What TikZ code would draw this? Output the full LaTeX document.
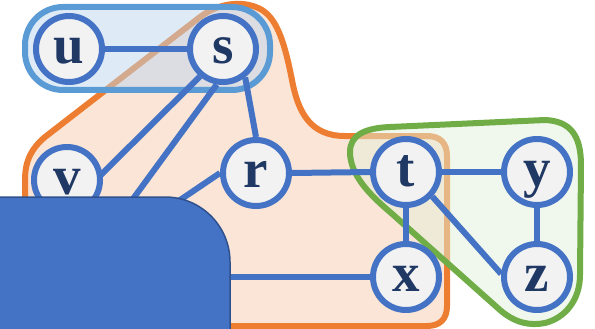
\documentclass[tikz,border=0pt]{standalone}
\usepackage{fontspec}
\setmainfont{Liberation Serif}
\definecolor{nodeblue}{HTML}{4472C4}
\definecolor{nodefill}{HTML}{F2F2F2}
\definecolor{navy}{HTML}{1F3864}
\definecolor{orangeline}{HTML}{ED7D31}
\definecolor{orangefill}{HTML}{FBE5D6}
\definecolor{groupline}{HTML}{5B9BD5}
\definecolor{groupfill}{HTML}{BDD7EE}
\definecolor{greenline}{HTML}{70AD47}
\definecolor{greenfill}{HTML}{E2F0D9}
\definecolor{boxdark}{HTML}{2F528F}
\pgfdeclarelayer{regionlayer}
\pgfdeclarelayer{edgelayer}
\pgfdeclarelayer{coverlayer}
\pgfsetlayers{regionlayer,edgelayer,main,coverlayer}
\tikzset{
  vtx/.style={circle, draw=nodeblue, fill=nodefill, line width=6pt, minimum size=66pt, inner sep=0pt,
    text=navy, font=\bfseries\fontsize{55}{55}\selectfont, text height=35pt, text depth=6pt},
  edge/.style={draw=nodeblue, line width=6pt},
  orangeregion/.style={draw=orangeline, fill=orangefill, line width=6pt},
  greenregion/.style={draw=greenline, fill=greenfill, fill opacity=0.5, draw opacity=1, line width=6pt},
  groupregion/.style={draw=groupline, fill=groupfill, fill opacity=0.5, draw opacity=1, line width=6pt},
  coverbox/.style={draw=boxdark, fill=nodeblue, line width=1.5pt}
}
\begin{document}
\begin{tikzpicture}[x=1pt,y=-1pt]
\useasboundingbox (0,0) rectangle (595,329);
% nodes
\node[vtx] (u) at (69,49) {u};
\node[vtx] (s) at (223,49) {s};
\node[vtx] (v) at (67,180) {v};
\node[vtx] (r) at (256,173) {r};
\node[vtx] (t) at (406,172) {t};
\node[vtx] (y) at (537,172) {y};
\node[vtx] (x) at (406,277) {x};
\node[vtx] (z) at (537,277) {z};
\coordinate (h1) at (-25,300);
\coordinate (h2) at (59,300);
\coordinate (h3) at (32,300);
\coordinate (h4) at (100,277);
\begin{pgfonlayer}{regionlayer}
% orange region
\draw[orangeregion] (25,340) -- (25,180) .. controls (25,160) and (32,148) .. (45,137)
  -- (200,17) .. controls (220,2) and (245,0) .. (262,10)
  .. controls (278,20) and (285,45) .. (292,80)
  .. controls (298,112) and (310,136) .. (345,136)
  -- (427,136) .. controls (440,136) and (447,143) .. (447,156)
  -- (447,306) .. controls (447,319) and (440,326) .. (427,326)
  -- (25,326) -- cycle;
% blue group
\draw[groupregion, rounded corners=38pt] (25,7) rectangle (270,90);
% green region
\draw[greenregion] (350,152) .. controls (350,175) and (370,195) .. (390,212)
  -- (500,310) .. controls (515,323) and (530,326) .. (545,323)
  .. controls (565,318) and (580,300) .. (580,275)
  -- (581,165) .. controls (581,135) and (570,121) .. (545,120)
  -- (390,127) .. controls (365,128) and (350,135) .. (350,152) -- cycle;
\end{pgfonlayer}
\begin{pgfonlayer}{edgelayer}
\path[edge] (u) -- (s);
\path[edge] (s.230) -- (h1);
\path[edge] (s.-100) -- (h2);
\path[edge] (s.-52) -- (r.north);
\path[edge] (r.west) -- (h3);
\path[edge] (r.east) -- (t.west);
\path[edge] (t) -- (y);
\path[edge] (t) -- (x);
\path[edge] (y) -- (z);
\path[edge] (t.-43) -- (z.175);
\path[edge] (x.west) -- (h4);
\end{pgfonlayer}
\begin{pgfonlayer}{coverlayer}
\draw[coverbox] (-10,340) -- (-10,197) -- (165,197) .. controls (201,197) and (230,226) .. (230,262) -- (230,340) -- cycle;
\end{pgfonlayer}
\end{tikzpicture}
\end{document}
